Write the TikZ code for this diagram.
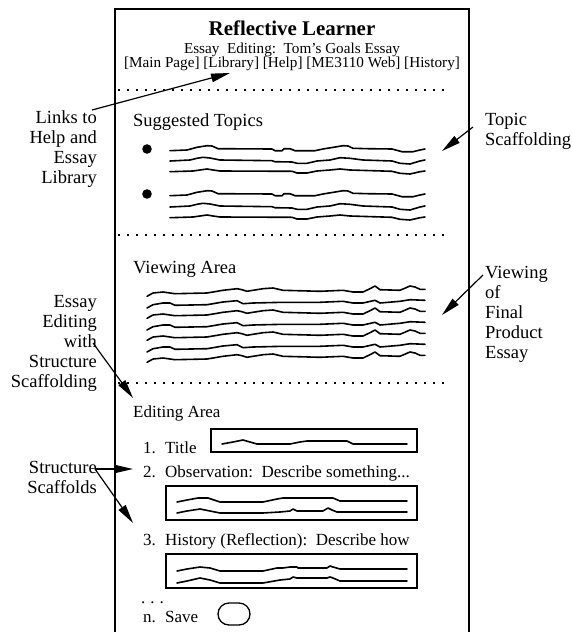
\documentclass[tikz,border=0pt]{standalone}
\usepackage{fontspec}
\setmainfont{Liberation Serif}
\usetikzlibrary{arrows.meta}
\tikzset{
  txt/.style={inner sep=0pt, anchor=base west},
  smalltxt/.style={font=\fontsize{15.2}{17}\selectfont},
  headtxt/.style={font=\fontsize{18.5}{20}\selectfont},
  itemtxt/.style={font=\fontsize{17}{20}\selectfont},
  sidetxt/.style={font=\fontsize{18.5}{20}\selectfont, inner sep=0pt},
  wavy/.style={line width=1.6pt, line join=round, line cap=round},
  dotrule/.style={line width=1.1pt, dash pattern=on 1.6pt off 7.4pt},
  arr/.style={line width=1.2pt, -{Triangle[length=19pt,width=8.5pt]}},
  frame/.style={line width=1.4pt},
  inbox/.style={line width=1.3pt}
}
\newcommand\wTA[1]{\draw[wavy,shift={(0,#1)}] (170,0.7) -- (187,0) -- (197,-2.7) -- (207,-4.3) -- (212,-4) -- (218,-1.3) -- (272,-1) -- (275,0.7) -- (282,0.7) -- (284,-1.3) -- (290,-1.3) -- (295,0.7) -- (315,0.7) -- (323,-1) -- (337,-3.3) -- (343,-4.3) -- (348,-4) -- (353,-1.7) -- (368,-1.3) -- (392,-1) -- (402,1.7) -- (413,1.7) -- (420,0) -- (425,-1);}
\newcommand\wTB[1]{\draw[wavy,shift={(0,#1)}] (170,1) -- (190,0) -- (197,-1.7) -- (203,-2.7) -- (210,-2) -- (220,0) -- (272,0.7) -- (275,1.7) -- (292,2) -- (297,3.3) -- (307,3.3) -- (317,1) -- (330,0) -- (340,-2.3) -- (350,-1.7) -- (363,0) -- (392,1) -- (400,3.3) -- (410,4) -- (420,1) -- (425,0);}
\newcommand\wTC[1]{\draw[wavy,shift={(0,#1)}] (170,0.7) -- (193,0) -- (200,-1) -- (207,-2) -- (213,-1) -- (220,0) -- (292,0.3) -- (297,2) -- (307,2) -- (317,0) -- (330,-1) -- (340,-2) -- (350,-1) -- (392,0.3) -- (400,2.3) -- (410,3) -- (420,0.7) -- (425,0);}
\newcommand\wVA[1]{\draw[wavy,shift={(0,#1)}] (147,4.3) -- (153,1) -- (163,0) -- (175,1.7) -- (207,1) -- (223,-1.7) -- (237,-3.3) -- (242,-2.3) -- (247,-0.7) -- (253,-1.7) -- (263,-3.3) -- (273,-4) -- (283,-1.7) -- (320,-0.7) -- (343,-1.7) -- (353,0) -- (363,0) -- (370,-3.3) -- (375,-6) -- (380,-2.3) -- (400,-1.7) -- (410,-6) -- (415,-5) -- (420,-2.7) -- (425,-2.7);}
\newcommand\wVB[1]{\draw[wavy,shift={(0,#1)}] (147,5) -- (153,1.7) -- (163,0) -- (170,0) -- (175,2.3) -- (207,1.7) -- (223,-1) -- (237,-2.3) -- (243,0.7) -- (253,0) -- (283,-0.7) -- (320,-0.7) -- (343,-1.7) -- (353,0) -- (363,0) -- (375,-2.7) -- (380,0) -- (400,-1.7) -- (410,-3.3) -- (425,-2.7);}
\begin{document}
\begin{tikzpicture}[x=1pt,y=-1pt]
\useasboundingbox (0,0) rectangle (572,632);
% frame
\draw[frame] (115,660) -- (115,9) -- (469,9) -- (469,660);
% header
\node[txt, anchor=base, font=\fontsize{20.9}{24}\selectfont\bfseries] (title) at (292,35) {Reflective Learner};
\node[txt, anchor=base, smalltxt] (sub) at (292,53) {Essay\ \ Editing:\ \ Tom's Goals Essay};
\node[txt, anchor=base, smalltxt] (links) at (292,67) {[Main Page] [Library] [Help] [ME3110 Web] [History]};
% dotted rules
\coordinate (d1a) at (118,90); \coordinate (d1b) at (448,90);
\coordinate (d2a) at (118,235); \coordinate (d2b) at (448,235);
\coordinate (d3a) at (118,383); \coordinate (d3b) at (448,383);
\draw[dotrule] (d1a) -- (d1b);
\draw[dotrule] (d2a) -- (d2b);
\draw[dotrule] (d3a) -- (d3b);
% suggested topics
\node[txt, headtxt] (sugg) at (133,126) {Suggested Topics};
\fill (147,149) circle (4.8);
\fill (147,194) circle (4.8);
\wTA{150}\wTB{160}\wTC{171}
\wTA{195}\wTB{206}\wTC{217}
% viewing area
\node[txt, headtxt] (view) at (133,273) {Viewing Area};
\wVA{292}\wVB{303}\wVA{314}\wVB{325}\wVA{336}\wVB{347}\wVA{358}
% editing area
\node[txt, itemtxt] (edit) at (133,417) {Editing Area};
\node[txt, itemtxt] (n1) at (143,453) {1.};
\node[txt, itemtxt] (t1) at (165,453) {Title};
\draw[inbox] (211,429) rectangle (417,452);
\draw[wavy] (222,444) -- (233,442) -- (243,440) -- (250,442) -- (257,444) -- (290,444) -- (300,442) -- (307,441) -- (347,441) -- (353,444) -- (407,444);
\node[txt, itemtxt] (n2) at (143,477) {2.};
\node[txt, itemtxt] (t2) at (165,477) {Observation:\ \ Describe something...};
\draw[inbox] (166,486) rectangle (417,520);
\draw[wavy] (177,502) -- (187,500) -- (198,498) -- (208,498) -- (220,502) -- (263,502) -- (277,499) -- (283,498) -- (333,498) -- (340,501) -- (407,501);
\draw[wavy] (177,513) -- (187,511) -- (200,509) -- (210,511) -- (220,513) -- (263,513) -- (280,512) -- (290,511) -- (293,509) -- (297,511) -- (323,511) -- (328,508) -- (332,510) -- (337,512) -- (407,512);
\node[txt, itemtxt] (n3) at (143,545) {3.};
\node[txt, itemtxt] (t3) at (165,545) {History (Reflection):\ \ Describe how};
\draw[inbox] (166,554) rectangle (417,588);
\draw[wavy] (177,571) -- (187,569) -- (200,567) -- (210,568) -- (220,571) -- (263,571) -- (277,568) -- (283,568) -- (290,567) -- (297,567) -- (298,568) -- (327,568) -- (330,566) -- (333,567) -- (340,569) -- (407,569);
\draw[wavy] (177,583) -- (187,581) -- (200,578) -- (210,580) -- (220,583) -- (263,583) -- (280,580) -- (290,579) -- (293,577) -- (297,578) -- (327,578) -- (330,577) -- (333,578) -- (340,581) -- (407,581);
\node[txt, itemtxt] (dots) at (141,603) {.\hspace{5pt}.\hspace{5pt}.};
\node[txt, itemtxt] (nn) at (143,622) {n.};
\node[txt, itemtxt] (savelbl) at (165,622) {Save};
\node[draw, inbox, rounded corners=11pt, minimum width=32pt, minimum height=22pt, inner sep=0pt] (savebtn) at (234,614) {};
% side labels (base anchor = last line)
\node[sidetxt, anchor=base east, align=right] (lblLinks) at (97,183) {Links to\\Help and\\Essay\\Library};
\node[sidetxt, anchor=base west, align=left] (lblTopic) at (485,145) {Topic\\Scaffolding};
\node[sidetxt, anchor=base west, align=left] (lblView) at (485,358) {Viewing\\of\\Final\\Product\\Essay};
\node[sidetxt, anchor=base east, align=right] (lblEdit) at (97,387) {Essay\\Editing\\with\\Structure\\Scaffolding};
\node[sidetxt, anchor=base east, align=right] (lblStruct) at (97,493) {Structure\\Scaffolds};
% arrows
\coordinate (aL0) at (92,110); \coordinate (aL1) at (230,73);
\coordinate (aT0) at (473,127); \coordinate (aT1) at (442,151);
\coordinate (aV0) at (483,275); \coordinate (aV1) at (442,315);
\coordinate (aE0) at (93,343); \coordinate (aE1) at (133,398);
\coordinate (aS0) at (95,469); \coordinate (aS1) at (133,469); \coordinate (aS2) at (133,523);
\draw[arr] (aL0) -- (aL1);
\draw[arr] (aT0) -- (aT1);
\draw[arr] (aV0) -- (aV1);
\draw[arr] (aE0) -- (aE1);
\draw[arr] (aS0) -- (aS1);
\draw[arr] (aS0) -- (aS2);
\end{tikzpicture}
\end{document}
